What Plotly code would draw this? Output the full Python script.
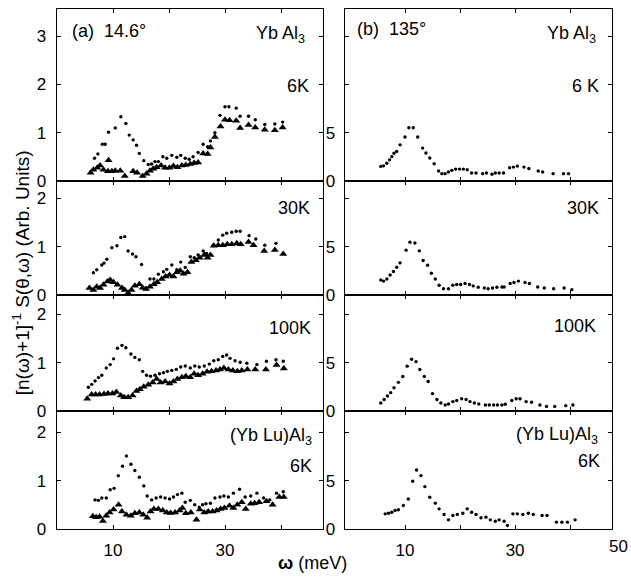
import plotly.graph_objects as go

# ---------------- data ----------------
# (a) 14.6 deg, YbAl3 6K
a6_dots_x = [6.7, 7.3, 8.1, 8.6, 9.2, 10.4, 11.4, 12.3, 12.9, 13.6, 14.2, 14.7, 15.5, 16.3, 16.9, 17.5, 18.1, 18.9, 19.6, 20.5,
             21.4, 22.1, 22.9, 23.6, 24.3, 25.2, 26.1, 26.9, 27.4, 28.2, 29.1, 30.0, 30.7, 32.0, 32.7, 34.2, 35.4, 37.1, 38.9, 40.3]
a6_dots_y = [0.47, 0.56, 0.76, 0.76, 1.01, 1.10, 1.33, 1.19, 0.95, 0.85, 0.74, 0.57, 0.42, 0.34, 0.35, 0.40, 0.40, 0.50, 0.47, 0.53,
             0.49, 0.53, 0.47, 0.45, 0.50, 0.59, 0.76, 0.71, 0.83, 1.00, 1.36, 1.54, 1.54, 1.51, 1.34, 1.34, 1.27, 1.17, 1.18, 1.22]
a6_tri_x = [6.0, 6.5, 7.2, 7.7, 8.3, 9.1, 9.2, 9.8, 10.4, 11.3, 12.1, 13.6, 14.3, 15.3, 16.0, 16.6, 17.2, 17.8, 18.6, 19.3,
            20.1, 20.8, 21.5, 22.3, 23.0, 23.8, 24.5, 25.2, 26.1, 26.9, 27.4, 28.2, 29.2, 30.0, 30.8, 32.0, 32.7, 34.2, 35.4,
            37.1, 38.9, 40.3]
a6_tri_y = [0.17, 0.23, 0.27, 0.32, 0.23, 0.20, 0.43, 0.20, 0.21, 0.21, 0.10, 0.20, 0.17, 0.10, 0.15, 0.21, 0.25, 0.28, 0.32, 0.27,
            0.27, 0.31, 0.28, 0.32, 0.33, 0.35, 0.37, 0.38, 0.57, 0.56, 0.69, 0.91, 1.13, 1.27, 1.26, 1.25, 1.10, 1.16, 1.11,
            1.06, 1.05, 1.11]

# (a) 30K
a30_dots_x = [6.5, 7.1, 8.0, 8.4, 8.9, 9.8, 10.7, 11.4, 12.1, 12.7, 13.5, 14.1, 15.1, 16.6, 17.3, 18.1, 19.0, 19.6, 20.5, 21.4,
              22.1, 22.9, 23.8, 24.5, 25.2, 26.1, 26.7, 27.9, 28.8, 29.6, 30.3, 31.2, 32.0, 32.7, 34.3, 35.5, 37.1, 39.1]
a30_dots_y = [0.46, 0.52, 0.62, 0.66, 0.74, 0.98, 1.02, 1.19, 1.21, 0.91, 0.85, 0.79, 0.63, 0.33, 0.33, 0.43, 0.48, 0.53, 0.62, 0.52,
              0.68, 0.57, 0.79, 0.77, 0.83, 0.91, 0.86, 1.03, 1.14, 1.24, 1.28, 1.30, 1.32, 1.32, 1.23, 1.16, 1.03, 1.07]
a30_tri_x = [5.8, 6.5, 7.1, 7.7, 8.3, 9.0, 9.5, 10.1, 10.8, 11.6, 12.1, 12.7, 13.3, 13.9, 14.7, 15.3, 15.9, 16.6, 17.3, 17.9,
             18.7, 19.4, 20.1, 20.8, 21.4, 22.0, 22.6, 23.3, 24.0, 24.8, 25.5, 26.3, 26.9, 27.4, 28.0, 28.8, 29.6, 30.4, 31.2,
             32.1, 32.8, 34.2, 35.1, 37.0, 38.9, 40.4]
a30_tri_y = [0.14, 0.10, 0.17, 0.14, 0.21, 0.28, 0.31, 0.26, 0.21, 0.14, 0.10, 0.04, 0.10, 0.19, 0.22, 0.15, 0.12, 0.17, 0.22, 0.26,
             0.33, 0.38, 0.41, 0.38, 0.47, 0.50, 0.44, 0.47, 0.68, 0.72, 0.77, 0.83, 0.77, 0.83, 1.02, 1.03, 1.03, 1.05, 1.05,
             1.07, 1.05, 1.10, 1.03, 0.91, 0.93, 0.85]

# (a) 100K
a100_dots_x = [5.6, 6.2, 6.8, 7.4, 8.0, 8.8, 9.5, 10.1, 10.8, 11.6, 12.3, 13.2, 13.9, 14.7, 15.3, 16.0, 16.7, 17.5, 18.3, 19.0,
               19.7, 20.5, 21.3, 22.1, 22.9, 23.8, 24.6, 25.4, 26.3, 27.2, 28.0, 28.8, 29.6, 30.3, 30.9, 31.8, 32.7, 33.9,
               35.7, 37.4, 39.1, 40.4]
a100_dots_y = [0.49, 0.55, 0.62, 0.69, 0.74, 0.89, 0.96, 1.08, 1.30, 1.36, 1.31, 1.18, 1.11, 1.06, 0.82, 0.74, 0.72, 0.74, 0.77, 0.79,
               0.82, 0.84, 0.86, 0.91, 0.93, 0.89, 0.93, 0.91, 0.93, 0.97, 1.04, 1.06, 1.13, 1.16, 1.09, 1.04, 1.01, 0.99,
               0.96, 1.03, 1.06, 1.03]
a100_tri_x = [5.4, 6.2, 6.9, 7.6, 8.4, 9.1, 9.9, 10.6, 11.4, 12.0, 12.7, 13.5, 14.2, 14.8, 15.5, 16.3, 17.1, 17.8, 18.5, 19.3,
              20.1, 20.8, 21.5, 22.3, 23.0, 23.8, 24.5, 25.2, 26.0, 26.8, 27.6, 28.4, 29.1, 29.8, 30.6, 31.4, 32.2, 33.0,
              34.0, 35.4, 37.3, 39.2, 40.5]
a100_tri_y = [0.25, 0.34, 0.34, 0.34, 0.35, 0.36, 0.36, 0.39, 0.32, 0.28, 0.28, 0.32, 0.41, 0.45, 0.50, 0.54, 0.59, 0.66, 0.59, 0.61,
              0.57, 0.61, 0.66, 0.70, 0.72, 0.70, 0.77, 0.74, 0.77, 0.81, 0.82, 0.84, 0.86, 0.89, 0.86, 0.84, 0.82, 0.84,
              0.86, 0.86, 0.86, 0.95, 0.88]

# (a) (YbLu)Al3 6K
aLu_dots_x = [6.8, 7.4, 8.0, 8.8, 9.5, 10.2, 10.95, 11.7, 12.4, 13.2, 13.9, 14.7, 15.5, 16.1, 16.9, 17.7, 18.5, 19.3, 20.1, 20.8,
              21.5, 22.3, 22.9, 23.8, 24.6, 25.4, 26.0, 26.6, 27.4, 28.2, 29.1, 29.8, 30.6, 31.5, 32.6, 33.6, 34.6, 35.7,
              36.9, 38.0, 39.2, 40.4]
aLu_dots_y = [0.60, 0.59, 0.64, 0.64, 0.81, 0.84, 1.10, 1.30, 1.51, 1.34, 1.21, 1.07, 0.89, 0.68, 0.60, 0.64, 0.66, 0.64, 0.62, 0.66,
              0.71, 0.74, 0.55, 0.59, 0.50, 0.45, 0.50, 0.52, 0.53, 0.64, 0.66, 0.68, 0.66, 0.74, 0.82, 0.66, 0.68, 0.74,
              0.64, 0.60, 0.74, 0.77]
aLu_tri_x = [6.4, 7.0, 7.6, 8.2, 8.8, 9.4, 10.1, 11.0, 11.6, 12.4, 13.2, 13.9, 14.7, 15.4, 16.1, 16.7, 17.3, 18.1, 18.9, 19.6,
             20.3, 21.1, 21.9, 22.4, 23.0, 23.9, 24.9, 25.5, 26.3, 27.0, 27.8, 28.5, 29.2, 29.9, 30.8, 31.5, 32.2, 33.0,
             33.7, 34.6, 35.3, 36.1, 37.4, 38.5, 39.7, 40.5]
aLu_tri_y = [0.26, 0.24, 0.25, 0.16, 0.27, 0.34, 0.40, 0.50, 0.36, 0.29, 0.27, 0.32, 0.34, 0.29, 0.23, 0.36, 0.41, 0.41, 0.38, 0.34,
             0.33, 0.34, 0.38, 0.43, 0.32, 0.34, 0.19, 0.40, 0.34, 0.36, 0.36, 0.38, 0.41, 0.43, 0.48, 0.43, 0.50, 0.55,
             0.41, 0.52, 0.53, 0.55, 0.57, 0.50, 0.66, 0.66]

# (b) 135 deg
b6_x = [5.6, 6.1, 6.7, 7.2, 7.6, 8.0, 8.5, 9.1, 10.0, 10.7, 11.5, 12.3, 13.2, 13.8, 14.5, 15.3, 16.1, 16.7, 17.3, 17.9,
        18.5, 19.2, 19.9, 20.6, 21.3, 22.1, 22.9, 24.1, 24.8, 25.8, 26.4, 27.1, 27.9, 29.0, 29.7, 30.4, 31.6, 32.5,
        34.2, 35.0, 36.9, 38.8, 39.7]
b6_y = [1.50, 1.56, 1.83, 2.18, 2.52, 2.86, 3.06, 3.74, 4.56, 5.51, 5.51, 4.56, 3.40, 2.89, 2.38, 1.77, 1.02, 0.75, 0.75, 0.92,
        1.09, 1.22, 1.22, 1.22, 1.16, 0.82, 0.82, 0.75, 0.82, 0.68, 0.82, 0.82, 0.82, 1.36, 1.43, 1.53, 1.43, 1.29,
        1.02, 0.92, 0.75, 0.75, 0.75]
b30_x = [5.6, 6.1, 6.7, 7.3, 7.9, 8.5, 9.1, 10.2, 10.9, 11.8, 12.6, 13.3, 14.1, 14.8, 15.5, 16.2, 17.0, 17.9, 18.7, 19.4,
         20.1, 20.9, 21.7, 22.4, 23.3, 24.4, 25.1, 25.9, 26.7, 27.6, 28.0, 29.1, 29.8, 30.6, 31.8, 32.6, 34.1, 35.3,
         37.0, 38.9, 40.3]
b30_y = [1.54, 1.43, 1.64, 2.07, 2.43, 2.86, 3.32, 4.64, 5.46, 5.39, 4.57, 3.57, 3.07, 2.25, 1.64, 1.00, 0.64, 0.64, 1.00, 1.07,
         1.07, 1.18, 1.07, 0.93, 0.79, 0.71, 0.64, 0.71, 0.79, 0.82, 0.82, 1.18, 1.29, 1.43, 1.29, 1.18, 0.82, 0.71,
         0.64, 0.71, 0.54]
b100_x = [5.6, 6.2, 6.8, 7.4, 8.0, 8.8, 9.6, 10.4, 11.2, 12.0, 12.7, 13.5, 14.2, 15.0, 15.8, 16.5, 17.3, 17.9, 18.7, 19.4,
          20.3, 21.1, 21.8, 22.6, 23.4, 24.6, 25.3, 26.1, 26.8, 27.6, 28.2, 29.4, 30.2, 30.9, 32.0, 33.0, 34.5, 35.7,
          37.2, 39.2, 40.5]
b100_y = [0.82, 1.18, 1.54, 1.89, 2.39, 2.96, 3.57, 4.64, 5.36, 5.11, 4.29, 3.57, 3.04, 1.79, 1.18, 0.82, 0.61, 0.71, 0.96, 1.07,
          1.25, 1.18, 0.96, 0.82, 0.71, 0.61, 0.61, 0.61, 0.61, 0.61, 0.68, 1.07, 1.25, 1.25, 0.96, 0.89, 0.61, 0.46,
          0.46, 0.54, 0.61]
bLu_x = [6.4, 7.0, 7.6, 8.2, 8.8, 9.7, 10.6, 11.4, 12.1, 12.9, 13.6, 14.5, 15.5, 16.2, 17.1, 17.9, 18.7, 19.5, 20.5, 21.3,
         22.1, 22.9, 23.8, 24.7, 25.5, 26.4, 27.1, 28.0, 28.6, 29.6, 30.4, 31.4, 32.4, 33.3, 34.9, 35.8, 37.5, 38.5,
         39.5, 40.9]
bLu_y = [1.55, 1.62, 1.72, 1.90, 1.97, 2.41, 3.10, 4.93, 6.10, 5.52, 4.38, 3.28, 2.66, 2.07, 1.48, 0.93, 1.38, 1.48, 1.62, 2.07,
         1.72, 1.48, 1.14, 1.21, 0.93, 0.79, 0.93, 0.79, 0.34, 1.55, 1.55, 1.48, 1.62, 1.48, 1.38, 1.38, 0.69, 0.69,
         0.69, 0.93]

x_major_ticks = [10, 30]
x_minor_ticks = [20, 40]
left_top_ticks = [0, 1, 2, 3]
left_ticks = [0, 1, 2]
right_major_ticks = [0, 5]
right_top_minor = [10, 15]
right_minor = [10]

# ---------------- figure ----------------
W, H = 631, 584
FONT = "Liberation Sans, Arial, Helvetica, sans-serif"

def fx(p):
    return p / W

def fy(p):
    return 1 - p / H

left_px = (57, 323)
right_px = (345, 612)
rows_px = [(9, 184), (184, 300), (300, 418), (418, 538)]
px_per_unit = 49.0
left_xrange = [0, 47.5]
right_xrange = [-0.9, 47.6]

left_series = [(a6_dots_x, a6_dots_y, a6_tri_x, a6_tri_y),
               (a30_dots_x, a30_dots_y, a30_tri_x, a30_tri_y),
               (a100_dots_x, a100_dots_y, a100_tri_x, a100_tri_y),
               (aLu_dots_x, aLu_dots_y, aLu_tri_x, aLu_tri_y)]
right_series = [(b6_x, b6_y), (b30_x, b30_y), (b100_x, b100_y), (bLu_x, bLu_y)]

fig = go.Figure()
layout = {}
dot = dict(symbol="circle", size=3.4, color="black")
tri = dict(symbol="triangle-up", size=7, color="black")

axis_common = dict(showline=True, linecolor="black", linewidth=1.3, mirror="allticks",
                   ticks="inside", ticklen=4, tickwidth=1, tickcolor="black",
                   showgrid=False, zeroline=False,
                   tickfont=dict(family=FONT, size=17, color="black"))

def minor(vals):
    return dict(tickvals=vals, ticks="inside", ticklen=4, tickwidth=1, tickcolor="black",
                showgrid=False)

for i, (top, bot) in enumerate(rows_px):
    hpx = bot - top
    ydom = [fy(bot), fy(top)]
    nL, nR = 2 * i + 1, 2 * i + 2
    dx, dy, tx, ty = left_series[i]
    fig.add_trace(go.Scatter(x=dx, y=dy, mode="markers", marker=dot,
                             xaxis=f"x{nL}", yaxis=f"y{nL}", showlegend=False))
    fig.add_trace(go.Scatter(x=tx, y=ty, mode="markers", marker=tri,
                             xaxis=f"x{nL}", yaxis=f"y{nL}", showlegend=False))
    rx, ry = right_series[i]
    fig.add_trace(go.Scatter(x=rx, y=ry, mode="markers", marker=dot,
                             xaxis=f"x{nR}", yaxis=f"y{nR}", showlegend=False))
    last = (i == 3)
    for n, xpx, xr in ((nL, left_px, left_xrange), (nR, right_px, right_xrange)):
        layout[f"xaxis{n}"] = dict(axis_common, domain=[fx(xpx[0]), fx(xpx[1])], range=xr,
                                   anchor=f"y{n}", tickvals=x_major_ticks,
                                   ticktext=[str(v) for v in x_major_ticks],
                                   showticklabels=last, minor=minor(x_minor_ticks),
                                   ticklabelstandoff=6)
    ltv = left_top_ticks if i == 0 else left_ticks
    layout[f"yaxis{nL}"] = dict(axis_common, domain=ydom, range=[0, hpx / px_per_unit],
                                anchor=f"x{nL}", tickvals=ltv, ticktext=[str(v) for v in ltv],
                                ticklabelstandoff=6)
    layout[f"yaxis{nR}"] = dict(axis_common, domain=ydom, range=[0, 5 * hpx / px_per_unit],
                                anchor=f"x{nR}", tickvals=right_major_ticks,
                                ticktext=[str(v) for v in right_major_ticks],
                                minor=minor(right_top_minor if i == 0 else right_minor),
                                ticklabelstandoff=5)

anns = []

def add_text(text, xpx, ypx, xanchor="right", size=18):
    anns.append(dict(text=text, x=fx(xpx), y=fy(ypx), xref="paper", yref="paper",
                     xanchor=xanchor, yanchor="middle", showarrow=False,
                     font=dict(family=FONT, size=size, color="black")))

add_text("(a)  14.6°", 70, 32, "left")
add_text("Yb Al<sub>3</sub>", 307, 35)
add_text("6K", 311, 88)
add_text("30K", 312, 212)
add_text("100K", 313, 334)
add_text("(Yb Lu)Al<sub>3</sub>", 314, 444)
add_text("6K", 314, 474)
add_text("(b)  135°", 355, 30, "left")
add_text("Yb Al<sub>3</sub>", 598, 35)
add_text("6 K", 601, 88)
add_text("30K", 601, 212)
add_text("100K", 598, 332)
add_text("(Yb Lu)Al<sub>3</sub>", 600, 443)
add_text("6K", 602, 469)

# "50" end label of the right-hand energy axis (just beyond the frame, as in the original)
add_text("50", 630, 556, "right", 17)
# axis titles
anns.append(dict(text="[n(ω)+1]<sup>-1</sup> S(θ,ω) (Arb. Units)", x=fx(21), y=fy(278),
                 xref="paper", yref="paper", textangle=-90, showarrow=False,
                 xanchor="center", yanchor="middle",
                 font=dict(family=FONT, size=19, color="black")))
anns.append(dict(text="<b>ω</b> (meV)", x=fx(312), y=fy(573), xref="paper", yref="paper",
                 showarrow=False, xanchor="center", yanchor="middle",
                 font=dict(family=FONT, size=18, color="black")))

fig.update_layout(width=W, height=H, margin=dict(l=0, r=0, t=0, b=0),
                  paper_bgcolor="white", plot_bgcolor="white", hovermode=False,
                  annotations=anns, showlegend=False, **layout)

# place the figure at the page's top-left corner (no default body margin), no mode bar
fig.write_html("out.html", config={"displayModeBar": False, "staticPlot": True},
               post_script="document.body.style.margin='0px';document.body.style.overflow='hidden';")
